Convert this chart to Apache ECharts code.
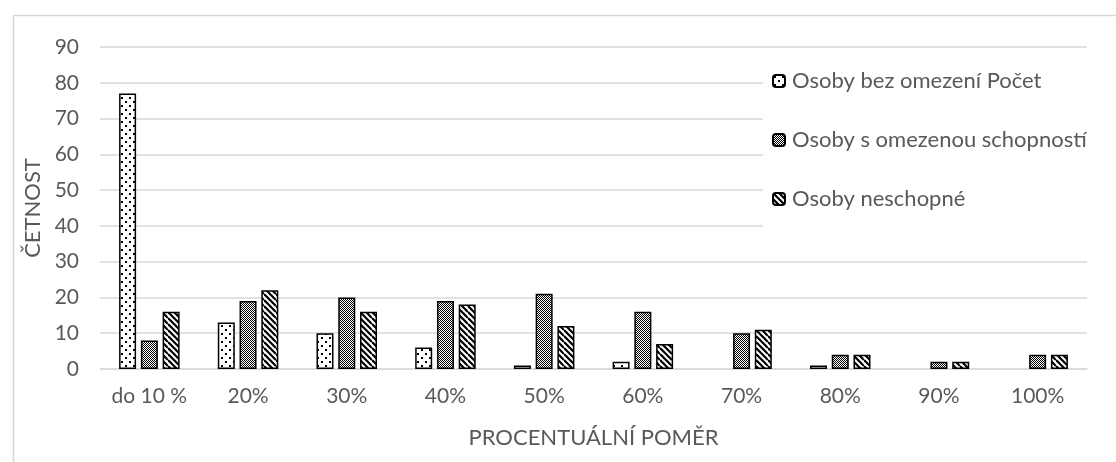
<!DOCTYPE html>
<html>
<head>
<meta charset="utf-8">
<script src="https://cdn.jsdelivr.net/npm/echarts@6/dist/echarts.min.js"></script>
<style>
  html, body { margin: 0; padding: 0; background: #fff; }
  #chart { width: 1116px; height: 462px; }
</style>
</head>
<body>
<div id="chart"></div>
<script>
// Category labels on the x axis
const categories = ['do 10 %', '20%', '30%', '40%', '50%', '60%', '70%', '80%', '90%', '100%'];

// Series names and counts per category
const seriesNames = ['Osoby bez omezení Počet', 'Osoby s omezenou schopností', 'Osoby neschopné'];
const bezOmezeni = [77, 13, 10, 6, 1, 2, 0, 1, 0, 0];
const sOmezenim = [8, 19, 20, 19, 21, 16, 10, 4, 2, 4];
const neschopne = [16, 22, 16, 18, 12, 7, 11, 4, 2, 4];

// Y axis ticks
const yTicks = [0, 10, 20, 30, 40, 50, 60, 70, 80, 90];

const TEXT = '#595959';
const GRID = '#d9d9d9';
const FONT = 'Lato, "Liberation Sans", sans-serif';

// Fill patterns for the bars (black on white)
function makeTile(size, draw) {
  const c = document.createElement('canvas');
  c.width = size; c.height = size;
  const g = c.getContext('2d');
  g.fillStyle = '#fff';
  g.fillRect(0, 0, size, size);
  draw(g, size);
  return c;
}
const dotsTile = makeTile(8, (g) => {
  g.fillStyle = '#000';
  g.fillRect(1, 1, 2, 2);
  g.fillRect(5, 5, 2, 2);
});
const checkTile = makeTile(4, (g) => {
  g.fillStyle = '#000';
  for (let y = 0; y < 4; y++) {
    for (let x = 0; x < 4; x++) {
      if ((x + y) % 2 === 0) g.fillRect(x, y, 1, 1);
    }
  }
});
const stripeTile = makeTile(12, (g, s) => {
  g.strokeStyle = '#000';
  g.lineWidth = 2.2;
  for (let k = -3; k <= 3; k++) {
    g.beginPath();
    g.moveTo(0, k * 6);
    g.lineTo(s, s + k * 6);
    g.stroke();
  }
});
const fills = [dotsTile, checkTile, stripeTile];
const seriesData = [bezOmezeni, sOmezenim, neschopne];

// Empty categories get no outline so nothing is drawn for a zero count
function toItems(values) {
  return values.map((v) => (v === 0 ? { value: v, itemStyle: { borderWidth: 0 } } : v));
}

const chart = echarts.init(document.getElementById('chart'), null, { renderer: 'canvas' });

chart.setOption({
  backgroundColor: '#fff',
  animation: false,
  textStyle: { fontFamily: FONT },
  graphic: [{
    type: 'rect',
    left: 11, top: 13,
    shape: { width: 1200, height: 600 },
    style: { fill: 'none', stroke: GRID, lineWidth: 1.5 },
    silent: true,
    z: -1
  }],
  grid: { left: 100, right: 29, top: 47, bottom: 93, containLabel: false },
  legend: {
    orient: 'vertical',
    left: 763,
    top: 50,
    padding: [20, 14, 28, 9],
    backgroundColor: '#fff',
    itemGap: 37,
    itemWidth: 12,
    itemHeight: 12,
    textStyle: { color: TEXT, fontSize: 22, fontFamily: FONT, padding: [0, 0, 0, 2] },
    data: seriesNames,
    z: 10
  },
  xAxis: {
    type: 'category',
    data: categories,
    name: 'PROCENTUÁLNÍ POMĚR',
    nameLocation: 'middle',
    nameGap: 58,
    nameTextStyle: { color: TEXT, fontSize: 22, fontFamily: FONT },
    axisLine: { show: true, lineStyle: { color: GRID, width: 1.5 } },
    axisTick: { show: false },
    axisLabel: { color: TEXT, fontSize: 21, fontFamily: FONT, margin: 17 }
  },
  yAxis: {
    type: 'value',
    min: yTicks[0],
    max: yTicks[yTicks.length - 1],
    interval: 10,
    name: 'ČETNOST',
    nameLocation: 'middle',
    nameGap: 52,
    nameRotate: 90,
    nameTextStyle: { color: TEXT, fontSize: 22, fontFamily: FONT },
    axisLine: { show: false },
    axisTick: { show: false },
    splitLine: { lineStyle: { color: GRID, width: 1.5 } },
    axisLabel: { color: TEXT, fontSize: 21, fontFamily: FONT, margin: 21 }
  },
  series: seriesNames.map((name, i) => ({
    name: name,
    type: 'bar',
    data: toItems(seriesData[i]),
    barWidth: 17,
    barGap: '28%',
    itemStyle: {
      color: { image: fills[i], repeat: 'repeat' },
      borderColor: '#000',
      borderWidth: 1.5
    }
  }))
});
</script>
</body>
</html>
